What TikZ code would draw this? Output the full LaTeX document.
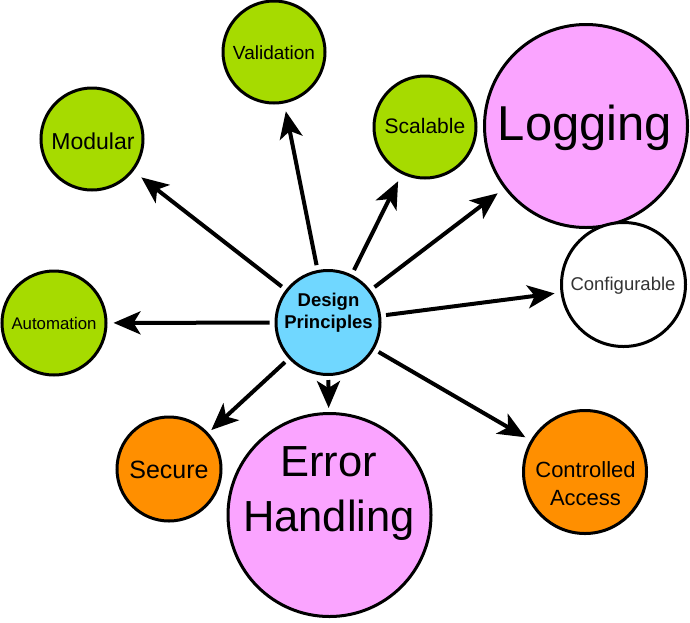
\documentclass[tikz,border=0pt]{standalone}
\usepackage{fontspec}
\setmainfont{Liberation Sans}
\usetikzlibrary{arrows.meta}
\definecolor{cgreen}{HTML}{A6DB00}
\definecolor{cpink}{HTML}{FAA4FF}
\definecolor{cblue}{HTML}{70D7FF}
\definecolor{corange}{HTML}{FF8F00}
\begin{document}
\begin{tikzpicture}[x=1pt,y=-1pt,
  circ/.style={circle,draw=black,line width=3pt,inner sep=0pt,minimum size=#1},
  arr/.style={-{Stealth[length=27pt,width=23pt,inset=7pt]},line width=4pt,shorten <=5pt,shorten >=7pt},
  txt/.style={anchor=base,inner sep=0pt},
  fs/.style={font=\fontsize{#1}{#1}\selectfont},
  fsb/.style={font=\bfseries\fontsize{#1}{#1}\selectfont}]
\useasboundingbox (0,0) rectangle (690,622);
% circles
\node[circ=104pt,fill=cblue] (dp) at (328,322.5) {};
\node[circ=203pt,fill=cpink] (log) at (586,126) {};
\node[circ=124pt,fill=white] (cfg) at (623.5,284.5) {};
\node[circ=123pt,fill=corange] (ca) at (585,472) {};
\node[circ=203pt,fill=cpink] (eh) at (329.5,515) {};
\node[circ=104pt,fill=corange] (sec) at (169,469) {};
\node[circ=104pt,fill=cgreen] (aut) at (54,323) {};
\node[circ=102pt,fill=cgreen] (mod) at (92,139) {};
\node[circ=102pt,fill=cgreen] (val) at (274,52) {};
\node[circ=102pt,fill=cgreen] (sca) at (425,127) {};
% texts
\node[txt,fsb=18.5] (dpT1) at (328.5,306.5) {Design};
\node[txt,fsb=18.5] (dpT2) at (328.5,328) {Principles};
\node[txt,fs=49] (logT) at (585,140) {Logging};
\node[txt,fs=18.5,text=black!80] (cfgT) at (623,290) {Configurable};
\node[txt,fs=22] (caT1) at (585.5,477) {Controlled};
\node[txt,fs=22] (caT2) at (585.5,505) {Access};
\node[txt,fs=43.5] (ehT1) at (328.5,476) {Error};
\node[txt,fs=43.5] (ehT2) at (329,531) {Handling};
\node[txt,fs=25] (secT) at (169,478) {Secure};
\node[txt,fs=16.8] (autT) at (54,329) {Automation};
\node[txt,fs=23] (modT) at (93,149) {Modular};
\node[txt,fs=19] (valT) at (274,59) {Validation};
\node[txt,fs=21] (scaT) at (425,133.5) {Scalable};
% connectors
\draw[arr,shorten >=10pt] (dp) -- (mod);
\draw[arr,shorten >=8pt] (dp) -- (val);
\draw[arr,shorten >=8pt] (dp) -- (sca);
\draw[arr,shorten >=8pt] (dp) -- (log);
\draw[arr,shorten >=6pt] (dp) -- (cfg);
\draw[arr,shorten >=6pt] (dp) -- (ca);
\draw[arr,shorten <=4pt,shorten >=4pt] (dp) -- (eh);
\draw[arr,shorten >=4pt] (dp) -- (sec);
\draw[arr,shorten >=6pt] (dp) -- (aut);
\end{tikzpicture}
\end{document}
